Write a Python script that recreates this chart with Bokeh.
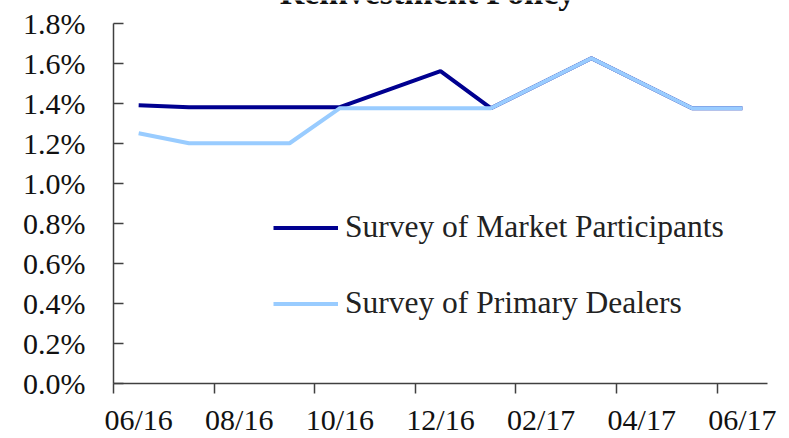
from bokeh.plotting import figure
from bokeh.models import FixedTicker, Range1d, PrintfTickFormatter, Label
from bokeh.embed import file_html
from bokeh.resources import INLINE

# ---- data ----
title_text = "Reinvestment Policy"
survey_months = ["2016-06", "2016-07", "2016-09", "2016-10", "2016-12",
                 "2017-01", "2017-03", "2017-05", "2017-06"]
market_participants = [1.39, 1.38, 1.38, 1.38, 1.56, 1.375, 1.625, 1.375, 1.375]
primary_dealers = [1.25, 1.20, 1.20, 1.375, 1.375, 1.375, 1.625, 1.375, 1.375]
x_tick_months = ["2016-06", "2016-08", "2016-10", "2016-12", "2017-02", "2017-04", "2017-06"]
x_tick_labels = ["06/16", "08/16", "10/16", "12/16", "02/17", "04/17", "06/17"]
y_ticks = [0.0, 0.2, 0.4, 0.6, 0.8, 1.0, 1.2, 1.4, 1.6, 1.8]
series_names = ["Survey of Market Participants", "Survey of Primary Dealers"]


def month_index(s):
    y, m = map(int, s.split("-"))
    return (y - 2016) * 12 + (m - 6)


x_vals = [month_index(s) + 0.5 for s in survey_months]
label_pos = [month_index(s) + 0.5 for s in x_tick_months]
boundary_pos = [month_index(s) for s in x_tick_months]

FONT = "Liberation Serif"
AXIS_COLOR = "#404040"

# the plotting frame reaches the top edge so that the (cut-off) title shows;
# the y axis line itself only spans 0 - 1.8 %
frame_h = 384
axis_h = 361.3
y_top = y_ticks[-1] * frame_h / axis_h

p = figure(width=789, height=438, output_backend="svg", toolbar_location=None,
           x_range=Range1d(0, 13), y_range=Range1d(0, y_top),
           min_border_left=113, min_border_right=22,
           min_border_top=0, min_border_bottom=54)
p.outline_line_color = None
p.xgrid.visible = False
p.ygrid.visible = False
p.background_fill_color = "white"
p.border_fill_color = "white"

p.line(x_vals, market_participants, line_color="#000090", line_width=4,
       legend_label=series_names[0])
p.line(x_vals, primary_dealers, line_color="#99CCFF", line_width=4,
       legend_label=series_names[1])

# x axis: labels centred in months, ticks at month boundaries
xa = p.xaxis[0]
xa.ticker = FixedTicker(ticks=label_pos, minor_ticks=boundary_pos)
xa.major_label_overrides = {pos: lab for pos, lab in zip(label_pos, x_tick_labels)}
xa.major_tick_in = 0
xa.major_tick_out = 0
xa.minor_tick_in = 0
xa.minor_tick_out = 10
xa.minor_tick_line_color = AXIS_COLOR
xa.minor_tick_line_width = 1.5
xa.axis_line_color = AXIS_COLOR
xa.axis_line_width = 1.5
xa.major_label_standoff = 9
xa.major_label_text_font = FONT
xa.major_label_text_font_size = "30px"
xa.major_label_text_color = "#111111"

ya = p.yaxis[0]
ya.ticker = FixedTicker(ticks=y_ticks)
ya.bounds = (y_ticks[0], y_ticks[-1])
ya.formatter = PrintfTickFormatter(format="%.1f%%")
ya.major_tick_in = 10
ya.major_tick_out = 0
ya.minor_tick_line_color = None
ya.major_tick_line_color = AXIS_COLOR
ya.major_tick_line_width = 1.5
ya.axis_line_color = AXIS_COLOR
ya.axis_line_width = 1.5
ya.major_label_standoff = 28
ya.major_label_text_font = FONT
ya.major_label_text_font_size = "30px"
ya.major_label_text_color = "#111111"

lg = p.legend[0]
lg.location = (160, 62)
lg.padding = 0
lg.margin = 0
lg.spacing = 40
lg.glyph_width = 65
lg.glyph_height = 35
lg.label_height = 35
lg.label_standoff = 7
lg.label_text_font = FONT
lg.label_text_font_size = "31.5px"
lg.label_text_color = "#222222"
lg.border_line_color = None
lg.background_fill_alpha = 0

# title, mostly cut off at the top as in the reference
p.add_layout(Label(x=314, y=391, x_units="screen", y_units="screen",
                   text=title_text, text_align="center", text_baseline="alphabetic",
                   text_font=FONT, text_font_style="bold", text_font_size="34px",
                   text_color="#111111"))

open("out.html", "w").write(file_html(p, INLINE))
